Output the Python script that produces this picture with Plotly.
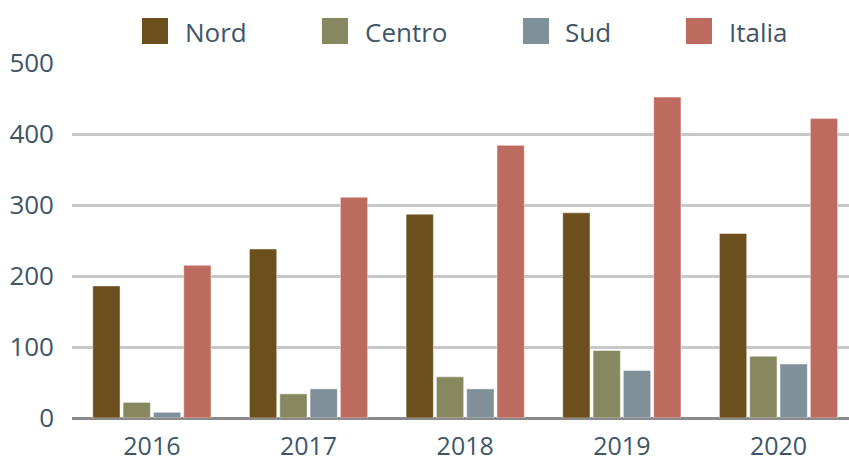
import plotly.graph_objects as go

years = ["2016", "2017", "2018", "2019", "2020"]
series_names = ["Nord", "Centro", "Sud", "Italia"]
nord = [186, 238, 287, 289, 260]
centro = [22, 34, 58, 95, 87]
sud = [8, 41, 41, 67, 76]
italia = [215, 311, 384, 452, 422]
y_ticks = [0, 100, 200, 300, 400, 500]

values = [nord, centro, sud, italia]
colors = ["#6b4f1d", "#878860", "#7f9098", "#bd6a5f"]
text_color = "#3e5667"
font_family = "Open Sans"

W, H = 849, 457
ml, mr, mt, mb = 72, 0, 63, 39
pw, ph = W - ml - mr, H - mt - mb

fig = go.Figure()
for name, vals, col in zip(series_names, values, colors):
    fig.add_trace(go.Bar(
        x=years, y=vals, name=name,
        marker=dict(color=col, line=dict(color="rgba(255,255,255,0.45)", width=1)),
        showlegend=False,
    ))

# manual legend (large square swatches)
swatch_px = [142, 322, 523, 686]
text_px = [183, 363, 563, 727]
sw_top, sw_bot = 18, 44

def px_x(p):
    return (p - ml) / pw

def px_y(p):
    return (H - mb - p) / ph

for name, col, sx, tx in zip(series_names, colors, swatch_px, text_px):
    fig.add_shape(type="rect", xref="paper", yref="paper",
                  x0=px_x(sx), x1=px_x(sx + 26), y0=px_y(sw_bot), y1=px_y(sw_top),
                  fillcolor=col, line=dict(width=0), layer="above")
    fig.add_annotation(text=name, xref="paper", yref="paper",
                       x=px_x(tx), y=px_y(32), xanchor="left", yanchor="middle",
                       showarrow=False, font=dict(family=font_family, size=26, color=text_color))

fig.update_layout(
    width=W, height=H,
    margin=dict(l=ml, r=mr, t=mt, b=mb, autoexpand=False),
    paper_bgcolor="white", plot_bgcolor="white",
    barmode="group", bargap=0.226, bargroupgap=0.1,
    font=dict(family=font_family, size=26, color=text_color),
    xaxis=dict(range=[-0.51, 4.45], showgrid=False, showline=False, zeroline=False,
               automargin=False,
               ticks="", tickfont=dict(size=25, color=text_color), ticklabelstandoff=11),
    yaxis=dict(range=[0, 500], tickvals=y_ticks, showgrid=True, gridcolor="#c8c8c8",
               gridwidth=3, zeroline=True, zerolinecolor="#8a8a8a", zerolinewidth=3,
               showline=False, ticks="", automargin=False,
               tickfont=dict(size=26, color=text_color),
               ticklabelstandoff=17),
)

fig.write_html("out.html",
               config={"displayModeBar": False},
               post_script="document.body.style.margin='0';document.body.style.overflow='hidden';")
